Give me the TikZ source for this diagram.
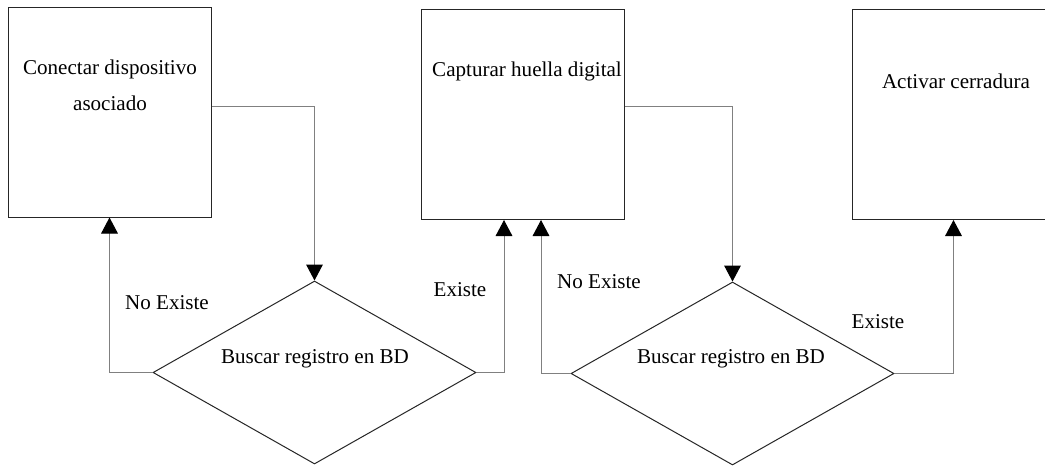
\documentclass[tikz,border=0pt]{standalone}
\usepackage{fontspec}
\setmainfont{Liberation Serif}
\usetikzlibrary{shapes.geometric,arrows.meta}
\begin{document}
\begin{tikzpicture}[x=0.75pt,y=-0.75pt,
  box/.style={draw=black!85,line width=0.75pt,minimum width=152.25pt,minimum height=157.5pt,inner sep=0pt},
  dec/.style={draw=black!85,line width=0.75pt,diamond,minimum width=242.25pt,minimum height=137.25pt,inner sep=0pt},
  conn/.style={draw=black!50,line width=0.75pt,-{Triangle[length=12pt,width=12.5pt,color=black]}},
  txt/.style={font=\fontsize{15.8}{27}\selectfont,inner sep=0pt,anchor=base,align=center}]
\clip (0,0) rectangle (1045,465);
\fill[white] (0,0) rectangle (1045,465);
% boxes
\node[box] (b1) at (109.5,112) {};
\node[box] (b2) at (522.5,114.5) {};
\node[box] (b3) at (953.5,114.5) {};
% diamonds
\node[dec] (d1) at (314.5,372.5) {};
\node[dec] (d2) at (732.5,373.5) {};
% texts
\node[txt] (t1a) at (110,74) {Conectar dispositivo};
\node[txt] (t1b) at (110,110) {asociado};
\node[txt] (t2) at (527,76) {Capturar huella digital};
\node[txt] (t3) at (956,88) {Activar cerradura};
\node[txt] (td1) at (315,363) {Buscar registro en BD};
\node[txt] (td2) at (731,363) {Buscar registro en BD};
\node[txt] (l1) at (167,309) {No Existe};
\node[txt] (l2) at (460,296) {Existe};
\node[txt] (l3) at (599,288) {No Existe};
\node[txt] (l4) at (878,328) {Existe};
% helper coordinates
\coordinate (h1) at (0,106);
\coordinate (h2) at (0,106);
% connectors
\draw[conn] (b1.east |- h1) -| (d1.north);
\draw[conn] (b2.east |- h2) -| (d2.north);
\draw[conn] (d1.west) -| (b1.south);
\draw[conn] (d1.east) -| ([xshift=-13.875pt]b2.south);
\draw[conn] (d2.west) -| ([xshift=13.875pt]b2.south);
\draw[conn] (d2.east) -| (b3.south);
\end{tikzpicture}
\end{document}
